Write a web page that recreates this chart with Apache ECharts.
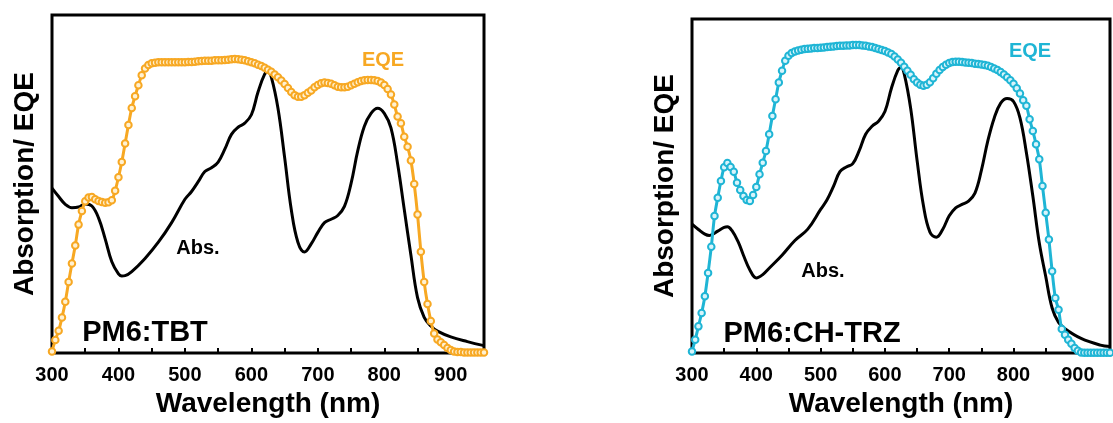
<!DOCTYPE html>
<html>
<head>
<meta charset="utf-8">
<script src="https://cdn.jsdelivr.net/npm/echarts@6/dist/echarts.min.js"></script>
<style>
html,body{margin:0;padding:0;background:#fff;}
#chart{width:1113px;height:423px;}
</style>
</head>
<body>
<div id="chart"></div>
<script>
// ---------- DATA ----------
var xTicks = [300, 400, 500, 600, 700, 800, 900];

// Left panel: PM6:TBT
var absWlL = [300,310,320,330,340,350,360,370,380,390,400,405,410,420,440,460,480,500,510,520,530,540,550,560,570,580,590,600,610,620,625,630,640,650,660,670,680,690,700,710,720,730,740,750,760,770,780,790,800,810,820,830,840,850,860,870,880,900,925,950];
var absValL = [0.488,0.463,0.44,0.43,0.432,0.441,0.435,0.40,0.338,0.27,0.234,0.228,0.229,0.241,0.28,0.328,0.386,0.455,0.478,0.507,0.537,0.548,0.565,0.603,0.647,0.668,0.68,0.705,0.772,0.825,0.832,0.816,0.724,0.579,0.425,0.328,0.299,0.323,0.357,0.386,0.396,0.407,0.434,0.502,0.598,0.671,0.709,0.724,0.709,0.666,0.56,0.425,0.29,0.164,0.106,0.08,0.065,0.048,0.034,0.022];

var eqeWl = [];
for (var w = 300; w <= 950; w += 5) eqeWl.push(w);
var eqeValL = [
0.005,0.039,0.066,0.105,0.152,0.21,0.265,0.318,0.38,0.42,
0.449,0.46,0.462,0.455,0.45,0.447,0.445,0.446,0.452,0.48,
0.52,0.565,0.62,0.675,0.725,0.76,0.792,0.822,0.842,0.852,
0.857,0.859,0.86,0.86,0.86,0.86,0.86,0.86,0.86,0.86,
0.86,0.861,0.861,0.862,0.863,0.864,0.865,0.865,0.865,0.866,
0.866,0.866,0.867,0.868,0.869,0.87,0.869,0.868,0.866,0.863,
0.86,0.857,0.853,0.849,0.844,0.838,0.832,0.824,0.816,0.806,
0.796,0.784,0.772,0.763,0.758,0.758,0.763,0.77,0.777,0.786,
0.793,0.798,0.8,0.799,0.797,0.792,0.788,0.786,0.786,0.788,
0.792,0.797,0.801,0.805,0.807,0.808,0.808,0.807,0.805,0.8,
0.793,0.781,0.765,0.735,0.70,0.68,0.64,0.61,0.57,0.50,
0.41,0.30,0.21,0.145,0.095,0.058,0.04,0.032,0.024,0.015,
0.009,0.005,0.003,0.003,0.002,0.002,0.002,0.002,0.002,0.002,0.002];

// Right panel: PM6:CH-TRZ
var absWlR = [300,310,320,327,340,350,355,362,372,380,390,400,410,420,440,460,480,500,510,520,530,540,550,560,570,580,590,600,610,620,625,630,640,650,660,670,680,690,700,710,720,730,740,750,760,770,780,790,800,810,820,830,840,850,860,870,880,905,935,950];
var absValR = [0.386,0.37,0.356,0.352,0.365,0.376,0.378,0.367,0.332,0.293,0.249,0.225,0.235,0.254,0.293,0.337,0.371,0.43,0.459,0.499,0.543,0.557,0.567,0.606,0.655,0.679,0.694,0.723,0.792,0.846,0.855,0.836,0.733,0.577,0.44,0.362,0.347,0.371,0.411,0.435,0.445,0.455,0.479,0.547,0.635,0.704,0.748,0.762,0.753,0.704,0.60,0.47,0.33,0.23,0.135,0.092,0.073,0.044,0.024,0.02];

var eqeValR = [
0.005,0.04,0.08,0.12,0.17,0.24,0.318,0.41,0.465,0.515,
0.556,0.569,0.557,0.543,0.51,0.488,0.47,0.458,0.455,0.473,
0.497,0.535,0.57,0.605,0.655,0.71,0.76,0.81,0.845,0.875,
0.89,0.898,0.903,0.906,0.908,0.91,0.911,0.912,0.913,0.913,
0.914,0.915,0.916,0.917,0.918,0.919,0.92,0.92,0.921,0.921,
0.922,0.922,0.922,0.921,0.92,0.918,0.916,0.913,0.91,0.907,
0.904,0.9,0.895,0.888,0.879,0.869,0.857,0.845,0.833,0.82,
0.81,0.803,0.8,0.803,0.811,0.823,0.836,0.847,0.856,0.863,
0.868,0.871,0.872,0.872,0.871,0.87,0.869,0.868,0.866,0.865,
0.864,0.862,0.86,0.856,0.852,0.847,0.841,0.834,0.826,0.817,
0.806,0.793,0.777,0.757,0.74,0.70,0.665,0.625,0.58,0.50,
0.42,0.34,0.245,0.165,0.13,0.072,0.055,0.04,0.028,0.015,
0.007,0.002,0.001,0.001,0.001,0.001,0.001,0.001,0.001,0.001,0.001];

var labelsL = {eqe: 'EQE', abs: 'Abs.', name: 'PM6:TBT'};
var labelsR = {eqe: 'EQE', abs: 'Abs.', name: 'PM6:CH-TRZ'};
var xName = 'Wavelength (nm)';
var yName = 'Absorption/ EQE';

// ---------- CHART ----------
var ORANGE = '#F7A823';
var CYAN = '#1FB5D5';
var FONT = 'Liberation Sans, Arial, sans-serif';

function pairs(xs, ys) { return xs.map(function (x, i) { return [x, ys[i]]; }); }

function xAxisCfg(idx) {
  return {
    gridIndex: idx, type: 'value', min: 300, max: 950, interval: 50,
    axisLine: {show: false},
    axisTick: {show: true, inside: true, length: 5, lineStyle: {color: '#000', width: 2}},
    axisLabel: {
      margin: 12, color: '#000', fontSize: 20, fontWeight: 'bold', fontFamily: FONT,
      formatter: function (v) { return xTicks.indexOf(v) >= 0 ? String(v) : ''; }
    },
    splitLine: {show: false},
    name: xName, nameLocation: 'middle', nameGap: 32,
    nameTextStyle: {color: '#000', fontSize: 28, fontWeight: 'bold', fontFamily: FONT}
  };
}
function yAxisCfg(idx) {
  return {
    gridIndex: idx, type: 'value', min: 0, max: 1,
    axisLine: {show: false}, axisTick: {show: false}, axisLabel: {show: false},
    splitLine: {show: false},
    name: yName, nameLocation: 'middle', nameGap: 13,
    nameTextStyle: {color: '#000', fontSize: 28, fontWeight: 'bold', fontFamily: FONT}
  };
}
function eqeSeries(idx, ys, col, fill) {
  return {
    type: 'line', xAxisIndex: idx, yAxisIndex: idx,
    data: pairs(eqeWl, ys), smooth: 0.3,
    symbol: 'circle', symbolSize: 6.5,
    itemStyle: {color: fill, borderColor: col, borderWidth: 2},
    lineStyle: {color: col, width: 3},
    z: 3, animation: false
  };
}
function absSeries(idx, xs, ys) {
  return {
    type: 'line', xAxisIndex: idx, yAxisIndex: idx,
    data: pairs(xs, ys), smooth: 0.4, showSymbol: false, symbol: 'none',
    lineStyle: {color: '#000', width: 3},
    z: 2, animation: false
  };
}
function txt(x, y, s, size, col) {
  return {type: 'text', x: x, y: y, z: 10,
    style: {text: s, fill: col, font: 'bold ' + size + 'px ' + FONT, textAlign: 'center', textVerticalAlign: 'middle'}};
}

var chart = echarts.init(document.getElementById('chart'), null, {renderer: 'canvas'});
chart.setOption({
  backgroundColor: '#fff',
  animation: false,
  grid: [
    {left: 52, top: 15, width: 432, height: 345, show: true, borderColor: '#000', borderWidth: 3, backgroundColor: 'transparent'},
    {left: 692, top: 19, width: 427, height: 341, show: true, borderColor: '#000', borderWidth: 3, backgroundColor: 'transparent'}
  ],
  xAxis: [xAxisCfg(0), xAxisCfg(1)],
  yAxis: [yAxisCfg(0), yAxisCfg(1)],
  series: [
    absSeries(0, absWlL, absValL),
    eqeSeries(0, eqeValL, ORANGE, '#FFF1D2'),
    absSeries(1, absWlR, absValR),
    eqeSeries(1, eqeValR, CYAN, '#D8F4FB')
  ],
  graphic: [
    txt(383, 60, labelsL.eqe, 20, ORANGE),
    txt(198, 248, labelsL.abs, 20, '#000'),
    txt(145, 333, labelsL.name, 29, '#000'),
    txt(1030, 51, labelsR.eqe, 20, CYAN),
    txt(823, 271, labelsR.abs, 20, '#000'),
    txt(812, 334, labelsR.name, 29, '#000')
  ]
});
</script>
</body>
</html>
